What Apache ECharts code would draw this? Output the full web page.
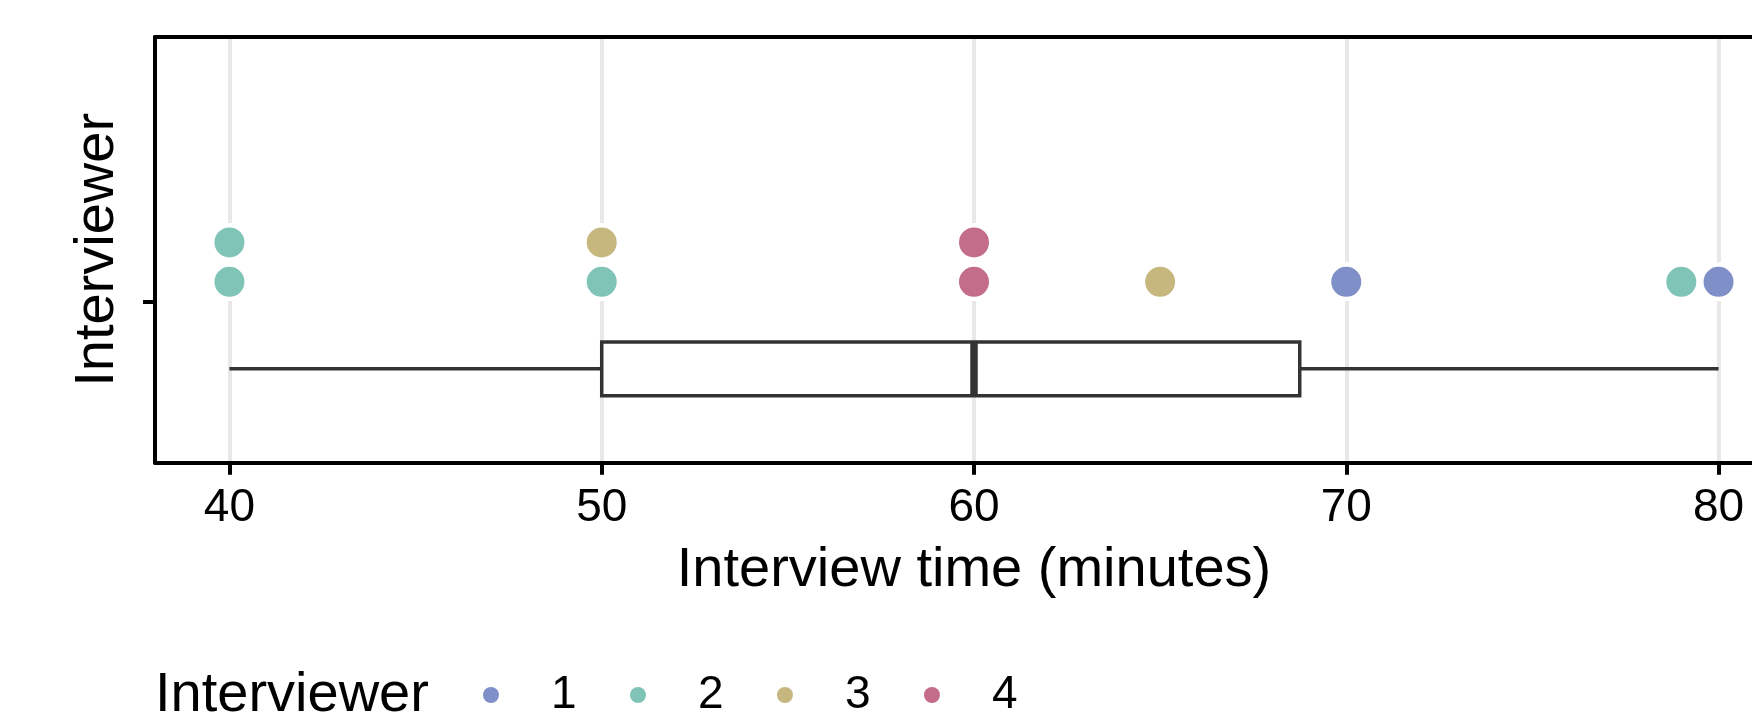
<!DOCTYPE html>
<html>
<head>
<meta charset="utf-8">
<script src="https://cdn.jsdelivr.net/npm/echarts@6/dist/echarts.min.js"></script>
<style>
  html, body { margin: 0; padding: 0; background: #ffffff; overflow: hidden; }
  /* the plotting panel runs on past the right edge of the page */
  #chart { width: 1793px; height: 717px; }
</style>
</head>
<body>
<div id="chart"></div>
<script>
// Interview durations (minutes) and who conducted each interview
const interviewTimes = [40, 40, 50, 50, 60, 60, 65, 70, 79, 80];
const interviewerIds = [2, 2, 2, 3, 4, 4, 3, 1, 2, 1];
const interviewers = ['1', '2', '3', '4'];
const interviewerColors = ['#7F8FC8', '#7FC4B6', '#C6B77F', '#C46D8B'];
// Box summary: min, Q1, median, Q3, max
const boxStats = [40, 50, 60, 68.75, 80];
const xTicks = [40, 50, 60, 70, 80];

// Layout of the single row (value units on the vertical axis)
const Y_MIN = -4.09, Y_MAX = 6.713;
const DOT_BASE = 0.5;          // first stacked dot sits half a slot above the row tick
const BOX_CENTER = -1.709;
const BOX_HALF = 0.681;
const FONT = '"Liberation Sans", Arial, Helvetica, sans-serif';

// Stack dots that share the same duration
const seen = {};
const points = interviewTimes.map((t, i) => {
  const lvl = seen[t] || 0;
  seen[t] = lvl + 1;
  return { t: t, id: String(interviewerIds[i]), lvl: lvl };
});

const dotSeries = interviewers.map((name, k) => ({
  name: name,
  type: 'scatter',
  z: 5,
  symbol: 'circle',
  symbolSize: 34.5,
  itemStyle: { color: interviewerColors[k], borderColor: '#ffffff', borderWidth: 4.5, opacity: 1 },
  emphasis: { disabled: true },
  data: points.filter(p => p.id === name).map(p => [p.t, DOT_BASE + p.lvl])
}));

const boxSeries = {
  type: 'custom',
  z: 3,
  silent: true,
  encode: { x: [0, 1, 2, 3, 4] },
  data: [boxStats],
  renderItem: function (params, api) {
    const lo = api.value(0), q1 = api.value(1), med = api.value(2), q3 = api.value(3), hi = api.value(4);
    const pLo = api.coord([lo, BOX_CENTER]);
    const pQ1 = api.coord([q1, BOX_CENTER]);
    const pQ3 = api.coord([q3, BOX_CENTER]);
    const pHi = api.coord([hi, BOX_CENTER]);
    const top = api.coord([q1, BOX_CENTER + BOX_HALF])[1];
    const bot = api.coord([q1, BOX_CENTER - BOX_HALF])[1];
    const xMed = api.coord([med, BOX_CENTER])[0];
    const stroke = '#333333';
    return {
      type: 'group',
      children: [
        { type: 'line', shape: { x1: pLo[0], y1: pLo[1], x2: pQ1[0], y2: pQ1[1] }, style: { stroke: stroke, lineWidth: 3.5 } },
        { type: 'line', shape: { x1: pQ3[0], y1: pQ3[1], x2: pHi[0], y2: pHi[1] }, style: { stroke: stroke, lineWidth: 3.5 } },
        { type: 'rect', shape: { x: pQ1[0], y: top, width: pQ3[0] - pQ1[0], height: bot - top }, style: { fill: '#ffffff', stroke: stroke, lineWidth: 3.5 } },
        { type: 'line', shape: { x1: xMed, y1: top, x2: xMed, y2: bot }, style: { stroke: stroke, lineWidth: 7.5 } }
      ]
    };
  }
};

const chart = echarts.init(document.getElementById('chart'), null, { renderer: 'canvas' });
chart.setOption({
  animation: false,
  backgroundColor: '#ffffff',
  textStyle: { fontFamily: FONT, color: '#000000' },
  grid: { left: 155, top: 37, right: 0, bottom: 254.3, containLabel: false },
  xAxis: [{
    type: 'value',
    position: 'bottom',
    min: 38,
    max: 82,
    name: 'Interview time (minutes)',
    nameLocation: 'middle',
    nameGap: 80,
    nameTextStyle: { fontSize: 56, color: '#000000', fontFamily: FONT },
    axisLine: { show: true, onZero: false, lineStyle: { color: '#000000', width: 4 } },
    axisTick: { show: true, customValues: xTicks, length: 12, lineStyle: { color: '#000000', width: 4 } },
    axisLabel: { show: true, customValues: xTicks, margin: 23, fontSize: 46, color: '#000000', fontFamily: FONT },
    splitLine: { show: true, lineStyle: { color: '#E8E8E8', width: 4 } }
  }, {
    type: 'value',
    position: 'top',
    min: 38,
    max: 82,
    axisLine: { show: true, onZero: false, lineStyle: { color: '#000000', width: 4 } },
    axisTick: { show: false },
    axisLabel: { show: false },
    splitLine: { show: false }
  }],
  yAxis: {
    type: 'value',
    min: Y_MIN,
    max: Y_MAX,
    name: 'Interviewer',
    nameLocation: 'middle',
    nameRotate: 90,
    nameGap: 29,
    nameTextStyle: { fontSize: 56, color: '#000000', fontFamily: FONT },
    axisLine: { show: true, onZero: false, lineStyle: { color: '#000000', width: 4 } },
    axisTick: { show: true, customValues: [0], length: 12, lineStyle: { color: '#000000', width: 4 } },
    axisLabel: { show: false },
    splitLine: { show: false }
  },
  legend: {
    data: interviewers,
    orient: 'horizontal',
    left: 483,
    top: 672,
    padding: 0,
    icon: 'circle',
    itemWidth: 16,
    itemHeight: 16,
    itemGap: 53.4,
    selectedMode: false,
    itemStyle: { borderWidth: 0 },
    textStyle: { fontSize: 46, color: '#000000', fontFamily: FONT, padding: [0, 0, 0, 47] }
  },
  graphic: [{
    type: 'text',
    left: 155,
    top: 668,
    style: { text: 'Interviewer', fontSize: 56, fill: '#000000', fontFamily: FONT }
  }],
  series: [boxSeries].concat(dotSeries)
});
</script>
</body>
</html>
